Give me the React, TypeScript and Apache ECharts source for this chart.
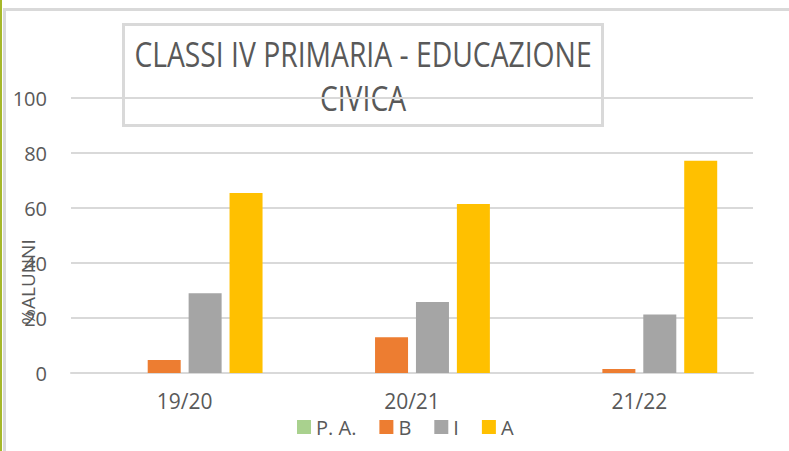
import React, { useEffect, useRef } from "react";
import * as echarts from "echarts";

const categories = ["19/20", "20/21", "21/22"];
const seriesNames = ["P. A.", "B", "I", "A"];
const valuesPA = [0, 0, 0];
const valuesB = [4.7, 13.0, 1.5];
const valuesI = [29.0, 25.8, 21.3];
const valuesA = [65.5, 61.5, 77.2];
const colors = ["#A9D18E", "#ED7D31", "#A5A5A5", "#FFC000"];
const yTicks = { min: 0, max: 100, interval: 20 };
const titleText = "CLASSI IV PRIMARIA - EDUCAZIONE\nCIVICA";
const yAxisName = "%ALUNNI";

const FONT = "'Open Sans', 'Liberation Sans', sans-serif";
const TEXT = "#595959";
const LINE = "#D9D9D9";

export default function App() {
  const ref = useRef<HTMLDivElement>(null);
  useEffect(() => {
    if (!ref.current) return;
    const chart = echarts.init(ref.current, undefined, { renderer: "svg" });
    const data = [valuesPA, valuesB, valuesI, valuesA];
    chart.setOption({
      animation: false,
      backgroundColor: "#ffffff",
      textStyle: { fontFamily: FONT },
      grid: {
        left: 71,
        right: 36,
        top: 98,
        bottom: 78,
        containLabel: false,
        outerBoundsMode: "none",
      },
      legend: {
        data: seriesNames,
        left: 297,
        top: 417,
        padding: 0,
        itemWidth: 14,
        itemHeight: 14,
        itemGap: 23,
        icon: "rect",
        textStyle: { fontSize: 20, color: TEXT, fontFamily: FONT, lineHeight: 14 },
      },
      xAxis: {
        type: "category",
        data: categories,
        axisLine: { lineStyle: { color: LINE, width: 2 } },
        axisTick: { show: false },
        axisLabel: { fontSize: 21, color: TEXT, margin: 20, lineHeight: 16, fontFamily: FONT },
      },
      yAxis: {
        type: "value",
        min: yTicks.min,
        max: yTicks.max,
        interval: yTicks.interval,
        axisLine: { show: false },
        axisTick: { show: false },
        axisLabel: { fontSize: 20, color: TEXT, margin: 24, fontFamily: FONT },
        splitLine: { lineStyle: { color: LINE, width: 2 } },
      },
      series: seriesNames.map((name, i) => ({
        name,
        type: "bar",
        data: data[i],
        barWidth: 33,
        barGap: "24%",
        itemStyle: { color: colors[i] },
      })),
      graphic: [
        {
          type: "line",
          shape: { x1: 1, y1: 0, x2: 1, y2: 451 },
          style: { stroke: "#A6B82A", lineWidth: 2 },
          silent: true,
        },
        {
          type: "polyline",
          shape: { points: [[4.5, 451], [4.5, 9.5], [789, 9.5]] },
          style: { stroke: LINE, lineWidth: 3, fill: null },
          silent: true,
        },
        {
          type: "rect",
          shape: { x: 123.5, y: 24.5, width: 479, height: 101 },
          style: { stroke: LINE, lineWidth: 3, fill: null },
          silent: true,
        },
        {
          type: "text",
          x: 363,
          y: 75,
          scaleY: 1.25,
          style: {
            text: titleText,
            fontSize: 28.3,
            fontFamily: FONT,
            fill: TEXT,
            align: "center",
            verticalAlign: "middle",
            lineHeight: 35,
          },
          silent: true,
        },
        {
          type: "text",
          x: 28,
          y: 282,
          rotation: Math.PI / 2,
          style: {
            text: yAxisName,
            fontSize: 19,
            fontFamily: FONT,
            fill: TEXT,
            align: "center",
            verticalAlign: "middle",
          },
          silent: true,
        },
      ],
    });
    return () => chart.dispose();
  }, []);
  return (
    <div
      ref={ref}
      style={{ position: "absolute", left: 0, top: 0, width: 789, height: 451 }}
    />
  );
}
